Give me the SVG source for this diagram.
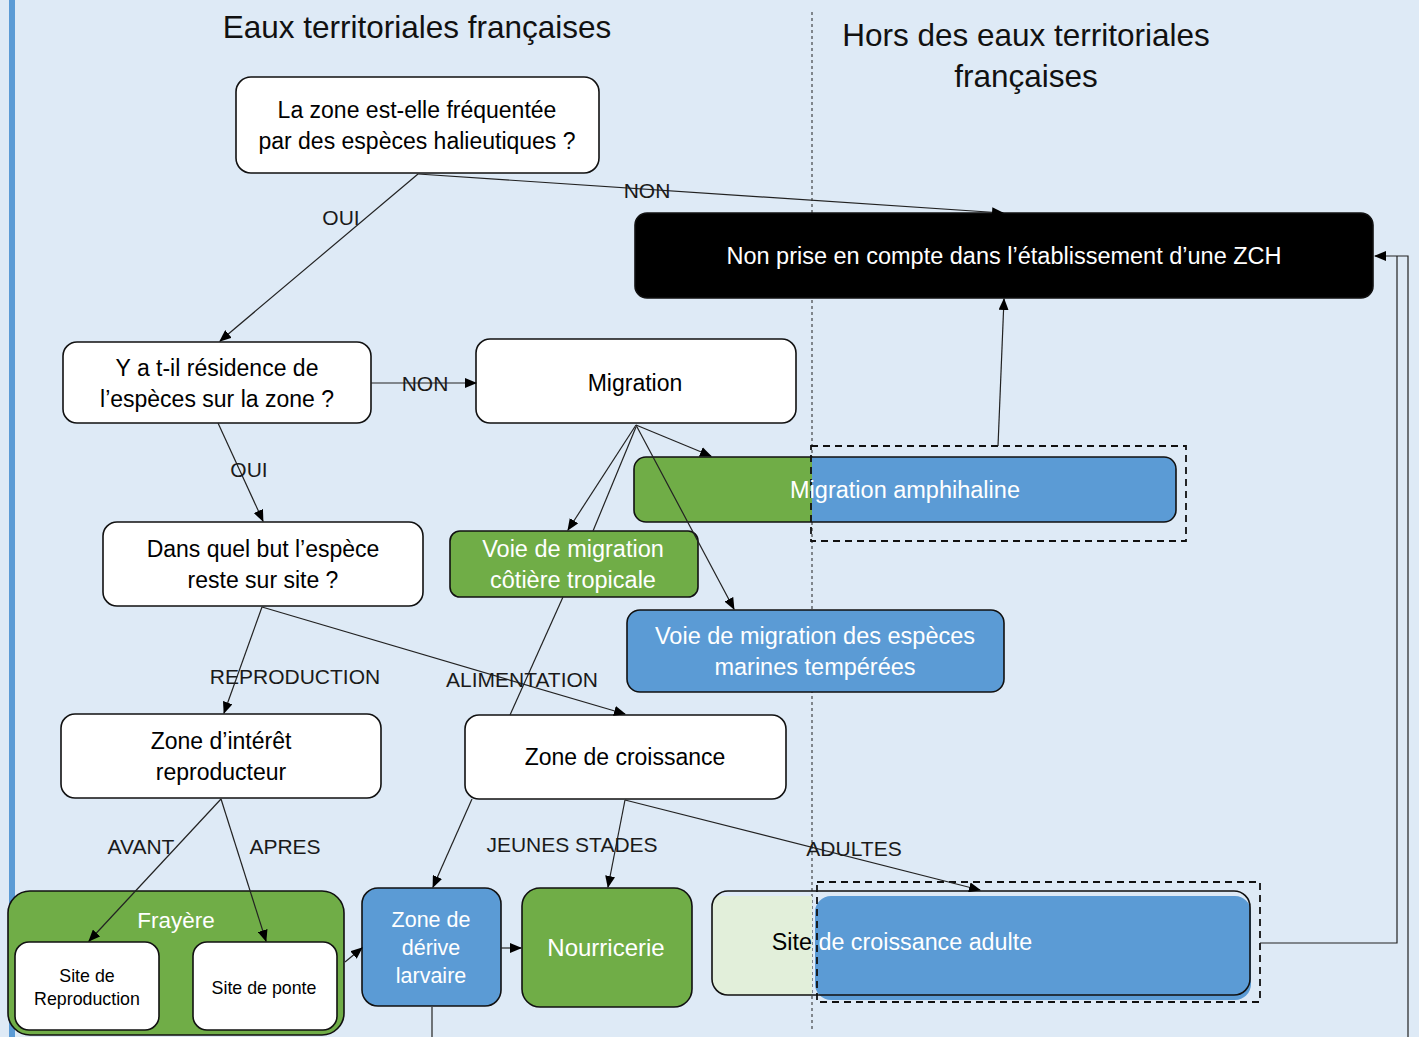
<svg xmlns="http://www.w3.org/2000/svg" width="1419" height="1037" viewBox="0 0 1419 1037">
<defs>
<style>
text{font-family:"Liberation Sans",Arial,sans-serif;text-anchor:middle}
.t{font-size:23px;fill:#000}
.w{font-size:23.5px;fill:#fff}
.lbl{font-size:21px;fill:#1a1a1a}
.title{font-size:31.5px;fill:#111}
.sm{font-size:17.8px;fill:#000}
.box{fill:#fff;stroke:#111;stroke-width:1.6}
.gbox{fill:#70ad47;stroke:#111;stroke-width:1.6}
.bbox{fill:#5b9bd5;stroke:#111;stroke-width:1.6}
.con{fill:none;stroke:#222;stroke-width:1.2}
.dash{fill:none;stroke:#111;stroke-width:1.8;stroke-dasharray:7,5}
</style>
<marker id="ah" markerWidth="12" markerHeight="10" refX="11" refY="5" orient="auto" markerUnits="userSpaceOnUse">
<path d="M0,0 L12,5 L0,10 Z" fill="#000"/>
</marker>
<clipPath id="cpAmph"><rect x="634" y="457" width="542" height="65" rx="12"/></clipPath>
<clipPath id="cpAdult"><rect x="712" y="891" width="538" height="104" rx="16"/></clipPath>
</defs>
<rect x="0" y="0" width="1419" height="1037" fill="#deeaf6"/>
<rect x="9" y="0" width="6" height="1037" fill="#5b9bd5"/>
<line x1="812" y1="12" x2="812" y2="1030" stroke="#222" stroke-width="1" stroke-dasharray="3,3"/>
<text class="title" x="417" y="38">Eaux territoriales françaises</text>
<text class="title" x="1026" y="46">Hors des eaux territoriales</text>
<text class="title" x="1026" y="87">françaises</text>

<g id="q1">
<rect class="box" x="236" y="77" width="363" height="96" rx="15"/>
<text class="t" x="417" y="118">La zone est-elle fréquentée</text>
<text class="t" x="417" y="149">par des espèces halieutiques ?</text>
</g>
<g id="nonprise">
<rect x="635" y="213" width="738" height="85" rx="12" fill="#000" stroke="#111" stroke-width="1.6"/>
<text class="w" x="1004" y="264">Non prise en compte dans l’établissement  d’une ZCH</text>
</g>
<g id="q2">
<rect class="box" x="63" y="342" width="308" height="81" rx="14"/>
<text class="t" x="217" y="376">Y a t-il résidence de</text>
<text class="t" x="217" y="407">l’espèces sur la zone ?</text>
</g>
<g id="migration">
<rect class="box" x="476" y="339" width="320" height="84" rx="14"/>
<text class="t" x="635" y="391">Migration</text>
</g>
<g id="amphihaline">
<g clip-path="url(#cpAmph)">
<rect x="634" y="457" width="178" height="65" fill="#70ad47"/>
<rect x="812" y="457" width="364" height="65" fill="#5b9bd5"/>
</g>
<rect x="634" y="457" width="542" height="65" rx="12" fill="none" stroke="#111" stroke-width="1.6"/>
<rect class="dash" x="811" y="446" width="375" height="95"/>
<text class="w" x="905" y="498">Migration amphihaline</text>
</g>
<g id="q3">
<rect class="box" x="103" y="522" width="320" height="84" rx="14"/>
<text class="t" x="263" y="557">Dans quel but l’espèce</text>
<text class="t" x="263" y="588">reste sur site ?</text>
</g>
<g id="cotiere">
<rect class="gbox" x="450" y="531" width="248" height="66" rx="10"/>
<text class="w" x="573" y="557">Voie de migration</text>
<text class="w" x="573" y="588">côtière tropicale</text>
</g>
<g id="temperees">
<rect class="bbox" x="627" y="610" width="377" height="82" rx="13"/>
<text class="w" x="815" y="644">Voie de migration des espèces</text>
<text class="w" x="815" y="675">marines tempérées</text>
</g>
<g id="reproducteur">
<rect class="box" x="61" y="714" width="320" height="84" rx="14"/>
<text class="t" x="221" y="749">Zone d’intérêt</text>
<text class="t" x="221" y="780">reproducteur</text>
</g>
<g id="croissance">
<rect class="box" x="465" y="715" width="321" height="84" rx="14"/>
<text class="t" x="625" y="765">Zone de croissance</text>
</g>
<g id="frayere">
<rect class="gbox" x="8" y="891" width="336" height="144" rx="22"/>
<text class="w" style="font-size:22.5px" x="176" y="928">Frayère</text>
</g>
<g id="site-reproduction">
<rect class="box" x="15" y="942" width="144" height="88" rx="14"/>
<text class="sm" x="87" y="982">Site de</text>
<text class="sm" x="87" y="1005">Reproduction</text>
</g>
<g id="site-ponte">
<rect class="box" x="193" y="942" width="144" height="88" rx="14"/>
<text class="sm" x="264" y="994">Site de ponte</text>
</g>
<g id="derive">
<rect class="bbox" x="362" y="888" width="139" height="118" rx="16"/>
<text class="w" style="font-size:21.5px" x="431" y="927">Zone de</text>
<text class="w" style="font-size:21.5px" x="431" y="955">dérive</text>
<text class="w" style="font-size:21.5px" x="431" y="983">larvaire</text>
</g>
<g id="nourricerie">
<rect class="gbox" x="522" y="888" width="170" height="119" rx="18"/>
<text class="w" style="font-size:24px" x="606" y="956">Nourricerie</text>
</g>
<g id="adulte">
<g clip-path="url(#cpAdult)">
<rect x="712" y="896" width="100" height="104" fill="#e2efda"/>
</g>
<rect x="815" y="896" width="436" height="104" rx="16" fill="#5b9bd5"/>
<rect x="712" y="891" width="538" height="104" rx="16" fill="none" stroke="#111" stroke-width="1.6"/>
<rect class="dash" x="817" y="882" width="443" height="120"/>
<text x="902" y="950" style="font-size:23.3px"><tspan fill="#000">Site </tspan><tspan fill="#fff">de croissance adulte</tspan></text>
</g>

<g id="connectors">
<line class="con" x1="418" y1="174" x2="220" y2="341" marker-end="url(#ah)"/>
<line class="con" x1="418" y1="174" x2="1003" y2="213" marker-end="url(#ah)"/>
<line class="con" x1="371" y1="383" x2="476" y2="383" marker-end="url(#ah)"/>
<line class="con" x1="218" y1="423" x2="263" y2="521" marker-end="url(#ah)"/>
<line class="con" x1="636" y1="425" x2="711" y2="456" marker-end="url(#ah)"/>
<line class="con" x1="636" y1="425" x2="568" y2="530" marker-end="url(#ah)"/>
<line class="con" x1="636" y1="425" x2="734" y2="609" marker-end="url(#ah)"/>
<line class="con" x1="636" y1="427" x2="593" y2="531"/>
<line class="con" x1="563" y1="597" x2="510" y2="715"/>
<line class="con" x1="998" y1="446" x2="1004" y2="299" marker-end="url(#ah)"/>
<line class="con" x1="262" y1="607" x2="224" y2="713" marker-end="url(#ah)"/>
<line class="con" x1="262" y1="607" x2="625" y2="714" marker-end="url(#ah)"/>
<line class="con" x1="221" y1="799" x2="89" y2="941" marker-end="url(#ah)"/>
<line class="con" x1="221" y1="799" x2="266" y2="941" marker-end="url(#ah)"/>
<line class="con" x1="472" y1="799" x2="433" y2="887" marker-end="url(#ah)"/>
<line class="con" x1="625" y1="800" x2="608" y2="887" marker-end="url(#ah)"/>
<line class="con" x1="625" y1="800" x2="980" y2="890" marker-end="url(#ah)"/>
<line class="con" x1="345" y1="962" x2="362" y2="948" marker-end="url(#ah)"/>
<line class="con" x1="501" y1="948" x2="521" y2="948" marker-end="url(#ah)"/>
<line class="con" x1="432" y1="1007" x2="432" y2="1037"/>
<polyline class="con" points="1260,943 1397,943 1397,256"/>
<polyline class="con" points="1408,1037 1408,256 1375,256" marker-end="url(#ah)"/>
<text class="lbl" x="341" y="225">OUI</text>
<text class="lbl" x="647" y="198">NON</text>
<text class="lbl" x="425" y="391">NON</text>
<text class="lbl" x="249" y="477">OUI</text>
<text class="lbl" x="295" y="684">REPRODUCTION</text>
<text class="lbl" x="522" y="687">ALIMENTATION</text>
<text class="lbl" x="141" y="854">AVANT</text>
<text class="lbl" x="285" y="854">APRES</text>
<text class="lbl" x="572" y="852">JEUNES STADES</text>
<text class="lbl" x="854" y="856">ADULTES</text>
</g>
</svg>
